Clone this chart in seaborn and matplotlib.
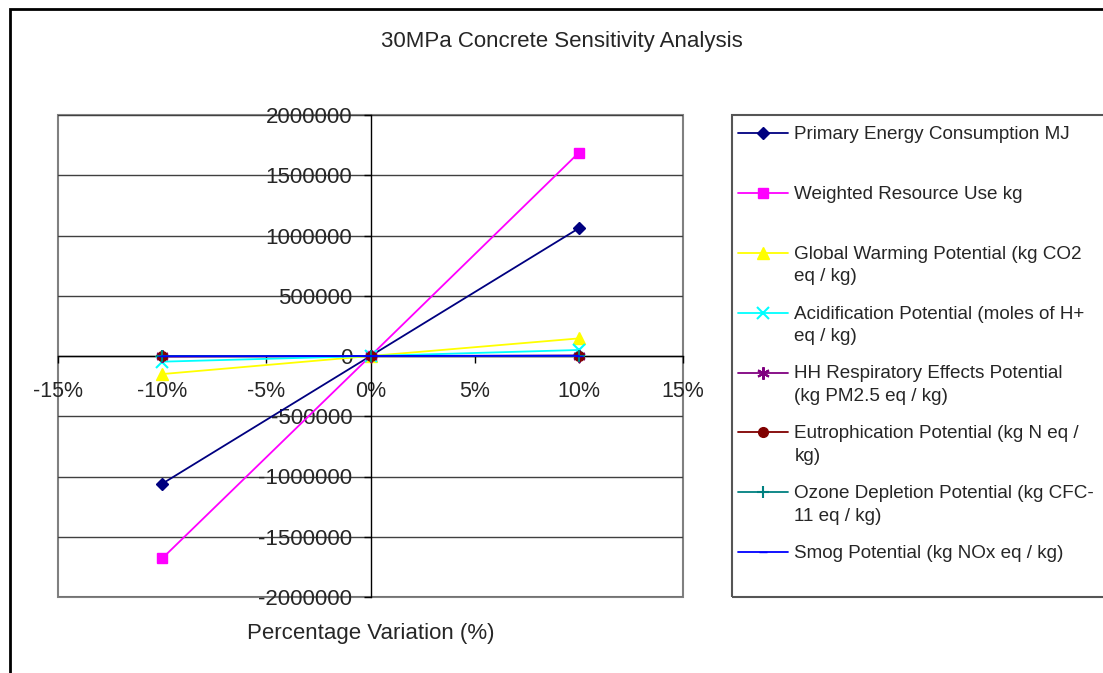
import numpy as np
import pandas as pd
import seaborn as sns
import matplotlib.pyplot as plt
from matplotlib.patches import Rectangle
from matplotlib.lines import Line2D
from matplotlib.legend_handler import HandlerLine2D

sns.set_style("white")
plt.rcParams["font.family"] = ["Liberation Sans", "DejaVu Sans"]

# data
variation = [-0.10, 0.0, 0.10]
primary_energy = [-1060000, 0, 1060000]
weighted_resource = [-1680000, 0, 1687000]
global_warming = [-150000, 0, 146000]
acidification = [-47000, 0, 50000]
hh_respiratory = [-4000, 0, 4000]
eutrophication = [-1500, 0, 1500]
ozone_depletion = [0, 0, 0]
smog = [-2000, 0, 2000]

labels = [
    "Primary Energy Consumption MJ\n ",
    "Weighted Resource Use kg\n ",
    "Global Warming Potential (kg CO2\neq / kg)",
    "Acidification Potential (moles of H+\neq / kg)",
    "HH Respiratory Effects Potential\n(kg PM2.5 eq / kg)",
    "Eutrophication Potential (kg N eq /\nkg)",
    "Ozone Depletion Potential (kg CFC-\n11 eq / kg)",
    "Smog Potential (kg NOx eq / kg)\n ",
]
x_ticks = [-0.15, -0.10, -0.05, 0.0, 0.05, 0.10, 0.15]
x_tick_labels = ["-15%", "-10%", "-5%", "0%", "5%", "10%", "15%"]
y_ticks = [-2000000, -1500000, -1000000, -500000, 0, 500000, 1000000, 1500000, 2000000]
y_tick_labels = ["-2000000", "-1500000", "-1000000", "-500000", "0",
                 "500000", "1000000", "1500000", "2000000"]

series = [primary_energy, weighted_resource, global_warming, acidification,
          hh_respiratory, eutrophication, ozone_depletion, smog]
colors = ["#000080", "#ff00ff", "#ffff00", "#00ffff",
          "#800080", "#800000", "#008080", "#0000ff"]
markers = ["D", "s", "^", "x", (6, 2, 0), "o", "+", "_"]
msizes = [6.5, 7, 9, 8, 9, 7, 9, 6]


class FirstLineHandler(HandlerLine2D):
    # put the legend marker level with the first text line
    def create_artists(self, legend, orig_handle, xdescent, ydescent,
                       width, height, fontsize, trans):
        arts = super().create_artists(legend, orig_handle, xdescent, ydescent,
                                      width, height, fontsize, trans)
        for a in arts:
            a.set_ydata(np.asarray(a.get_ydata()) + fontsize * 0.66)
        return arts


fig = plt.figure(figsize=(11.03, 6.73), dpi=100)
ax = fig.add_axes([58 / 1103, 1 - 597 / 673, 625 / 1103, 482 / 673])

for vals, lab, c, m, ms in zip(series, labels, colors, markers, msizes):
    df = pd.DataFrame({"x": variation, "y": vals})
    sns.lineplot(data=df, x="x", y="y", ax=ax, color=c, marker=m,
                 markersize=ms, markeredgecolor=c,
                 markeredgewidth=1.5 if m in ("x", "+", (6, 2, 0)) else 1,
                 linewidth=1.3, label=lab, legend=False)

ax.set_xlim(-0.15, 0.15)
ax.set_ylim(-2000000, 2000000)
ax.set_xticks(x_ticks)
ax.set_xticklabels(x_tick_labels)
ax.set_yticks(y_ticks)
ax.set_yticklabels(y_tick_labels)
ax.set_xlabel("Percentage Variation (%)", fontsize=16)
ax.xaxis.set_label_coords(0.5, -0.053)
ax.set_ylabel("")

ax.spines["left"].set_position(("data", 0))
ax.spines["bottom"].set_position(("data", 0))
for s in ["left", "bottom"]:
    ax.spines[s].set_color("black")
    ax.spines[s].set_linewidth(1)
    ax.spines[s].set_zorder(1)
for s in ["top", "right"]:
    ax.spines[s].set_visible(False)
ax.tick_params(axis="x", direction="out", length=5, width=1, pad=13,
               color="black", bottom=True, labelsize=15.5)
ax.tick_params(axis="y", direction="out", length=5, width=1, pad=8,
               color="black", left=True, labelsize=16)
ax.yaxis.grid(True, color="#404040", linewidth=1)
ax.set_axisbelow(True)
ax.add_patch(Rectangle((0, 0), 1, 1, transform=ax.transAxes, fill=False,
                       edgecolor="#808080", linewidth=1.5, clip_on=False, zorder=0.5))

fig.text(562 / 1103, 1 - 41 / 673, "30MPa Concrete Sensitivity Analysis",
         ha="center", va="center", fontsize=16)

# outer chart border and legend box
fig.add_artist(Rectangle((10 / 1103, -0.02), 1.1, 1.02 - 9 / 673,
                         transform=fig.transFigure, fill=False,
                         edgecolor="black", linewidth=2))
fig.add_artist(Rectangle((732 / 1103, 1 - 597 / 673), 0.5, 482 / 673,
                         transform=fig.transFigure, fill=False,
                         edgecolor="#555555", linewidth=1.5))

handles, labs = ax.get_legend_handles_labels()
leg = fig.legend(handles, labs, loc="upper left",
                 bbox_to_anchor=(721 / 1103, 1 - 109 / 673),
                 frameon=False, fontsize=13.6, handlelength=2.65,
                 handletextpad=0.33, labelspacing=1.08,
                 handler_map={Line2D: FirstLineHandler()})
for t in leg.get_texts():
    t.set_linespacing(1.42)

fig.savefig("out.png", dpi=100)
